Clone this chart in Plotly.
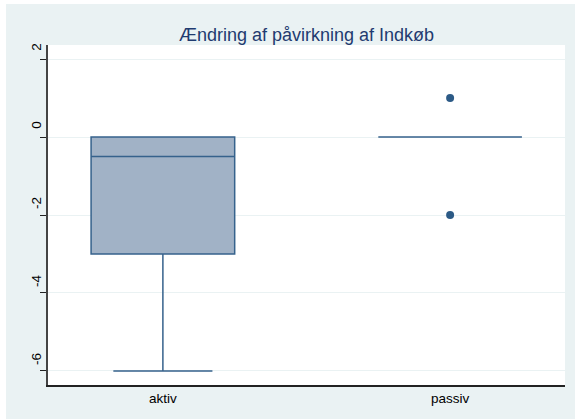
import plotly.graph_objects as go

# Data
categories = ["aktiv", "passiv"]
q1_vals = [-3, 0]
median_vals = [-0.5, 0]
q3_vals = [0, 0]
lower_vals = [-6, 0]
upper_vals = [0, 0]
outlier_x = ["passiv", "passiv"]
outlier_y = [1, -2]
y_ticks = [-6, -4, -2, 0, 2]
title_text = "Ændring af påvirkning af Indkøb"

LINE = "#36628C"
FILL = "#A1B2C6"
BG = "#EAF2F3"

fig = go.Figure()
fig.add_trace(go.Box(
    x=categories, q1=q1_vals, median=median_vals, q3=q3_vals,
    lowerfence=lower_vals, upperfence=upper_vals,
    fillcolor=FILL, line=dict(color=LINE, width=1.5),
    width=0.5, whiskerwidth=0.69, boxpoints=False, showlegend=False,
    hoverinfo="skip",
))
fig.add_trace(go.Scatter(
    x=outlier_x, y=outlier_y, mode="markers",
    marker=dict(color="#2C5A86", size=8), showlegend=False, hoverinfo="skip",
))

fig.update_layout(
    width=575, height=419,
    margin=dict(l=48, r=10, t=45, b=34),
    paper_bgcolor=BG, plot_bgcolor="white",
    font=dict(family="Liberation Sans, Arial, sans-serif", color="black", size=12),
    title=dict(text=title_text, x=(48 + 565) / 2 / 575, xanchor="center",
               y=1 - 35 / 419, yanchor="middle",
               font=dict(size=18, color="#1F3B70")),
    shapes=[
        dict(type="rect", xref="paper", yref="paper",
             x0=(0 - 48) / 517, x1=(575 - 48) / 517,
             y0=(385 - 4) / 340, y1=(385 - 0) / 340,
             fillcolor="white", line=dict(width=0), layer="below"),
        dict(type="rect", xref="paper", yref="paper",
             x0=(0 - 48) / 517, x1=(6 - 48) / 517,
             y0=(385 - 419) / 340, y1=(385 - 0) / 340,
             fillcolor="white", line=dict(width=0), layer="below"),
    ],
)
fig.update_xaxes(
    type="category", range=[-0.4, 1.4], showgrid=False,
    showline=True, linecolor="#222", linewidth=1.5, ticks="",
    tickfont=dict(size=13.5), zeroline=False,
)
fig.update_yaxes(
    range=[-6.36, 2.36], tickvals=y_ticks, ticktext=[str(v) for v in y_ticks],
    tickangle=-90, ticklabelshift=-10, ticklabelstandoff=-6,
    ticks="outside", ticklen=6, tickcolor="#222",
    showgrid=True, gridcolor=BG, gridwidth=1, zeroline=False,
    showline=True, linecolor="#444", linewidth=1.5,
    tickfont=dict(size=13.5),
)

fig.write_html("out.html")
